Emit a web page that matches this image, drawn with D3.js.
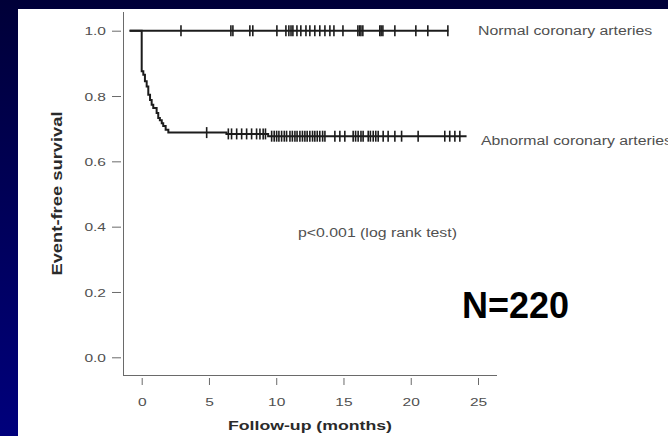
<!DOCTYPE html>
<html>
<head>
<meta charset="utf-8">
<script src="https://cdn.jsdelivr.net/npm/d3@7"></script>
<style>
  html, body { margin: 0; padding: 0; background: #000040; overflow: hidden; }
  svg { display: block; }
</style>
</head>
<body>
<svg id="chart" width="668" height="436"></svg>
<script>
// ---------------- data ----------------
const xTicks = [0, 5, 10, 15, 20, 25];
const yTicks = [0.0, 0.2, 0.4, 0.6, 0.8, 1.0];
const xTitle = "Follow-up (months)";
const yTitle = "Event-free survival";
const seriesNames = ["Normal coronary arteries", "Abnormal coronary arteries"];
const pText = "p<0.001 (log rank test)";
const nText = "N=220";

// Kaplan-Meier step points (months, survival)
const normalTimes = [-0.9, 22.8];
const normalSurv  = [1.0, 1.0];
const normalCensor = [2.92, 6.63, 6.78, 8.04, 8.26, 10.05, 10.72, 10.94, 11.1, 11.24, 11.54, 11.83,
  12.21, 12.5, 12.87, 13.24, 13.62, 13.99, 14.29, 14.96, 16.07, 16.2, 16.3, 16.44, 17.7, 17.8,
  17.93, 18.82, 20.38, 21.27, 22.76];

const abnormalTimes = [-0.9, 0, 0.12, 0.24, 0.37, 0.49, 0.62, 0.74, 0.86, 1.11, 1.23, 1.35, 1.49,
  1.6, 1.78, 1.98, 6.3, 9.4, 24.15];
const abnormalSurv  = [1.0, 0.876, 0.865, 0.845, 0.829, 0.804, 0.788, 0.773, 0.763, 0.748, 0.733,
  0.726, 0.717, 0.708, 0.697, 0.688, 0.684, 0.677, 0.677];
const abnormalCensor = [4.83, 6.44, 6.68, 7.06, 7.43, 7.8, 8.17, 8.54, 8.79, 9.03, 9.2, 9.66, 9.85,
  10.03, 10.2, 10.4, 10.6, 10.77, 11.02, 11.2, 11.39, 11.55, 11.76, 11.95, 12.13, 12.3, 12.5, 12.7,
  12.87, 13.05, 13.24, 13.45, 13.62, 14.36, 14.73, 15.1, 15.72, 15.9, 16.09, 16.3, 16.46, 16.84,
  17.0, 17.21, 17.4, 17.58, 17.95, 18.32, 18.82, 19.32, 20.55, 22.53, 22.9, 23.28, 23.65];

// ---------------- layout ----------------
const W = 668, H = 436;
const svg = d3.select("#chart");
const defs = svg.append("defs");
const grad = defs.append("linearGradient").attr("id", "bg").attr("x1", 0).attr("y1", 0).attr("x2", 0).attr("y2", 1);
grad.append("stop").attr("offset", "0%").attr("stop-color", "#000038");
grad.append("stop").attr("offset", "100%").attr("stop-color", "#00007c");
svg.append("rect").attr("width", W).attr("height", H).attr("fill", "url(#bg)");
svg.append("rect").attr("x", 18).attr("y", 9).attr("width", W - 18).attr("height", H - 9).attr("fill", "#ffffff");

const x = d3.scaleLinear().domain([0, 25]).range([141.7, 478]);
const y = d3.scaleLinear().domain([0, 1]).range([357.3, 30.7]);

const axisColor = "#6a6a6a";
const labelColor = "#505050";
const SX = 1.32; // horizontal stretch of the reference's text

function stretch(sel, f) {
  sel.each(function () {
    const len = this.getComputedTextLength();
    d3.select(this).attr("textLength", len * f).attr("lengthAdjust", "spacingAndGlyphs");
  });
}

// axis lines (L-shaped frame)
svg.append("line").attr("x1", 123.5).attr("x2", 123.5).attr("y1", 12).attr("y2", 375.5)
  .attr("stroke", axisColor).attr("stroke-width", 1);
svg.append("line").attr("x1", 123).attr("x2", 497).attr("y1", 375.5).attr("y2", 375.5)
  .attr("stroke", axisColor).attr("stroke-width", 1);

// y axis ticks
const gy = svg.append("g").attr("transform", "translate(121,0)")
  .call(d3.axisLeft(y).tickValues(yTicks).tickSize(9).tickPadding(6).tickFormat(d3.format(".1f")));
gy.select(".domain").remove();
gy.selectAll("line").attr("stroke", axisColor);
gy.selectAll("text").attr("fill", labelColor).attr("font-family", "Liberation Sans, Arial, sans-serif")
  .attr("font-size", 11.5).attr("dy", "0.36em");
stretch(gy.selectAll("text"), 1.35);

// x axis ticks
const gx = svg.append("g").attr("transform", "translate(0,378)")
  .call(d3.axisBottom(x).tickValues(xTicks).tickSize(7).tickPadding(13).tickFormat(d3.format("d")));
gx.select(".domain").remove();
gx.selectAll("line").attr("stroke", axisColor);
gx.selectAll("text").attr("fill", labelColor).attr("font-family", "Liberation Sans, Arial, sans-serif")
  .attr("font-size", 11.5);
stretch(gx.selectAll("text"), 1.35);

// curves
const step = d3.line().x(d => x(d[0])).y(d => y(d[1])).curve(d3.curveStepAfter);
const normalPts = normalTimes.map((t, i) => [t, normalSurv[i]]);
const abnormalPts = abnormalTimes.map((t, i) => [t, abnormalSurv[i]]);
const curveColor = "#1c1c1c";

svg.append("path").attr("d", step(normalPts)).attr("fill", "none")
  .attr("stroke", curveColor).attr("stroke-width", 2);
svg.append("path").attr("d", step(abnormalPts)).attr("fill", "none")
  .attr("stroke", curveColor).attr("stroke-width", 2);

function survAt(times, surv, t) {
  let s = surv[0];
  for (let i = 0; i < times.length; i++) { if (times[i] <= t) s = surv[i]; }
  return s;
}

svg.append("g").selectAll("line").data(normalCensor).join("line")
  .attr("x1", d => x(d)).attr("x2", d => x(d))
  .attr("y1", d => y(survAt(normalTimes, normalSurv, d)) - 5.5)
  .attr("y2", d => y(survAt(normalTimes, normalSurv, d)) + 5.5)
  .attr("stroke", curveColor).attr("stroke-width", 1.6);
svg.append("g").selectAll("line").data(abnormalCensor).join("line")
  .attr("x1", d => x(d)).attr("x2", d => x(d))
  .attr("y1", d => y(survAt(abnormalTimes, abnormalSurv, d)) - 5.5)
  .attr("y2", d => y(survAt(abnormalTimes, abnormalSurv, d)) + 5.5)
  .attr("stroke", curveColor).attr("stroke-width", 1.6);

// series labels
const font = "Liberation Sans, Arial, sans-serif";
const t1 = svg.append("text").attr("x", 478).attr("y", 35).text(seriesNames[0])
  .attr("font-family", font).attr("font-size", 12).attr("fill", labelColor);
const t2 = svg.append("text").attr("x", 481).attr("y", 144.5).text(seriesNames[1])
  .attr("font-family", font).attr("font-size", 12).attr("fill", labelColor);
const t3 = svg.append("text").attr("x", 298).attr("y", 237).text(pText)
  .attr("font-family", font).attr("font-size", 12).attr("fill", labelColor);
stretch(t1, SX); stretch(t2, SX); stretch(t3, SX);

// axis titles
const xt = svg.append("text").attr("x", 310).attr("y", 430).attr("text-anchor", "middle")
  .text(xTitle).attr("font-family", font).attr("font-size", 13).attr("font-weight", "bold").attr("fill", "#2a2a2a");
stretch(xt, 1.36);
const yt = svg.append("text").attr("transform", "translate(62,193.5) rotate(-90)")
  .attr("text-anchor", "middle").text(yTitle)
  .attr("font-family", font).attr("font-size", 14).attr("font-weight", "bold").attr("fill", "#2a2a2a");
stretch(yt, 1.31);

// N label
svg.append("text").attr("x", 462).attr("y", 318).text(nText)
  .attr("font-family", font).attr("font-size", 36).attr("font-weight", "bold").attr("fill", "#000000");
</script>
</body>
</html>
